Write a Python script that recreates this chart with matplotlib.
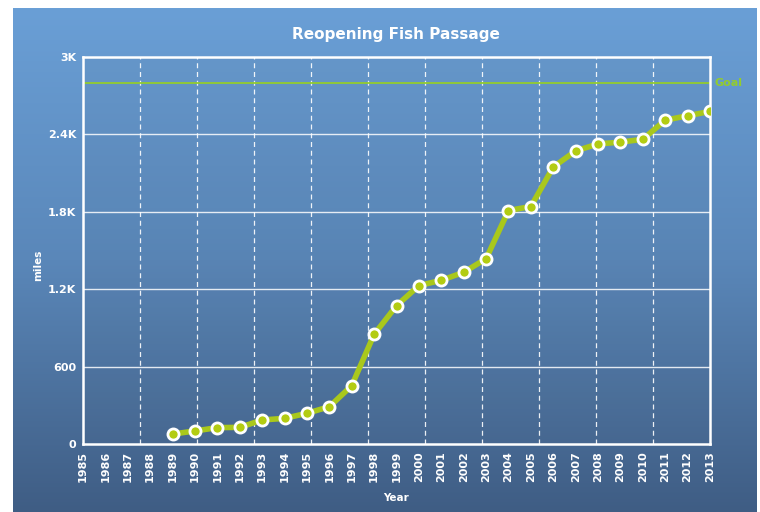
import numpy as np
import matplotlib
matplotlib.use("Agg")
import matplotlib.pyplot as plt
from matplotlib.colors import LinearSegmentedColormap

years = list(range(1989, 2014))
miles = [77, 101, 127, 129, 186, 199, 238, 289, 452, 850, 1072, 1228, 1269,
         1331, 1436, 1810, 1841, 2147, 2272, 2326, 2340, 2362, 2510, 2545, 2578]
goal = 2800
x_ticks = list(range(1985, 2014))
y_ticks = [0, 600, 1200, 1800, 2400, 3000]
y_labels = ["0", "600", "1.2K", "1.8K", "2.4K", "3K"]

fig = plt.figure(figsize=(7.6, 5.12), dpi=100)
fig.patch.set_facecolor("white")

# gradient background panel
bg = fig.add_axes([13/760, 0, (757-13)/760, (512-8)/512])
cmap = LinearSegmentedColormap.from_list("bgc", ["#6a9fd6", "#5a87b9", "#3f5d84"])
grad = np.linspace(0, 1, 256).reshape(-1, 1)
bg.imshow(grad, aspect="auto", cmap=cmap, extent=[0, 1, 0, 1], origin="upper")
bg.set_axis_off()

ax = fig.add_axes([83/760, (512-444)/512, (710-83)/760, (444-57)/512])
ax.set_facecolor((0.3, 0.4, 0.5, 0.08))
ax.set_xlim(1985, 2013)
ax.set_ylim(0, 3000)

# grid
for v in y_ticks[1:-1]:
    ax.axhline(v, color="white", lw=1.0, alpha=0.85, zorder=1)
for k in range(1, 11):
    ax.axvline(1985 + k * 28 / 11, color="white", lw=0.9, ls=(0, (4, 3)), alpha=0.9, zorder=1)

# goal
ax.axhline(goal, color="#93cc2e", lw=1.3, zorder=2)
ax.text(2013.2, goal, "Goal", color="#93cc2e", fontsize=8, fontweight="bold",
        va="center", ha="left", clip_on=False)

ax.plot(years, miles, color="#a9c81c", lw=4, zorder=3, solid_capstyle="round")
ax.plot(years, miles, ls="none", marker="o", ms=8, mfc="#b3cc12", mec="white",
        mew=2, zorder=4)

for s in ax.spines.values():
    s.set_color("white")
    s.set_linewidth(1.8)

ax.set_xticks(x_ticks)
ax.set_xticklabels([str(y) for y in x_ticks], rotation=90, color="white",
                   fontsize=8, fontweight="bold")
ax.set_yticks(y_ticks)
ax.set_yticklabels(y_labels, color="white", fontsize=8, fontweight="bold")
ax.tick_params(length=0, pad=5)

ax.set_xlabel("Year", color="white", fontsize=7.5, fontweight="bold", labelpad=8)
ax.text(38/760, 1 - 265/512, "miles", transform=fig.transFigure, rotation=90,
        color="white", fontsize=7.5, fontweight="bold", ha="center", va="center")

fig.text(396/760, 1 - 35/512, "Reopening Fish Passage", color="white",
         fontsize=11, fontweight="bold", ha="center", va="center")

fig.savefig("out.png", dpi=100)
